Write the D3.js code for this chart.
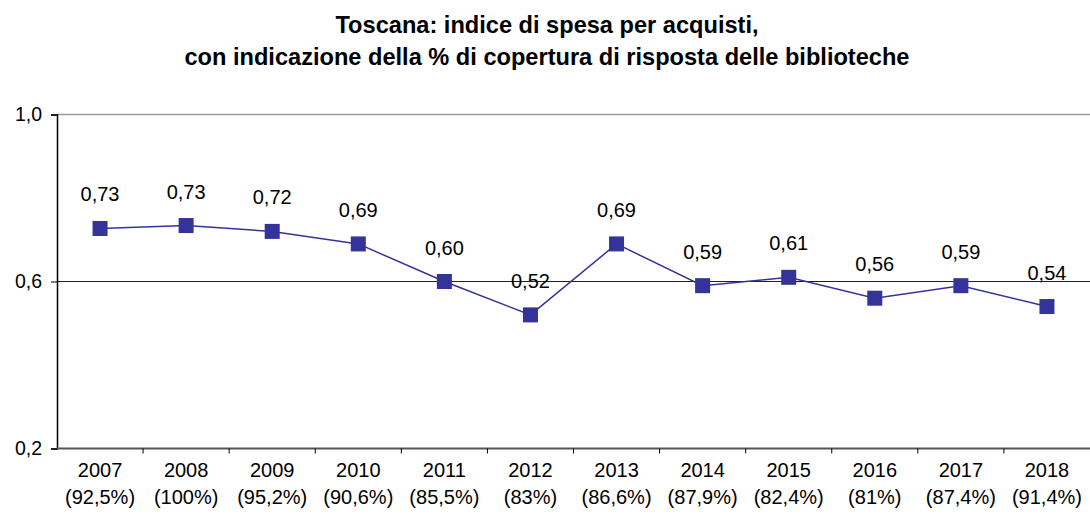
<!DOCTYPE html>
<html>
<head>
<meta charset="utf-8">
<script src="https://cdn.jsdelivr.net/npm/d3@7"></script>
<style>
    body { margin: 0; background: #fff; }
    svg text { font-family: "Liberation Sans", Arial, sans-serif; fill: #000; }
    .title { font-weight: bold; font-size: 23.6px; }
</style>
</head>
<body>
<div id="chart"></div>
<script>
// data
let years = ["2007", "2008", "2009", "2010", "2011", "2012", "2013", "2014", "2015", "2016", "2017", "2018"];
let coverage = ["92,5%", "100%", "95,2%", "90,6%", "85,5%", "83%", "86,6%", "87,9%", "82,4%", "81%", "87,4%", "91,4%"];
let spending = [0.727, 0.734, 0.72, 0.69, 0.60, 0.52, 0.69, 0.59, 0.61, 0.56, 0.59, 0.54];
let yTicks = [0.2, 0.6, 1.0];

let width = 1090, height = 515;
let margin = { top: 114.5, right: 0, bottom: 66.5, left: 57 };
let w = width - margin.left - margin.right;
let h = height - margin.top - margin.bottom;

let fmt = d => d3.format(".2f")(d).replace(".", ",");
let fmtTick = d => d3.format(".1f")(d).replace(".", ",");

let svg = d3.select("#chart").append("svg")
    .attr("width", width)
    .attr("height", height);

// title
svg.append("text").classed("title", true)
    .attr("x", 547).attr("y", 33)
    .attr("text-anchor", "middle")
    .text("Toscana: indice di spesa per acquisti,");
svg.append("text").classed("title", true)
    .attr("x", 547).attr("y", 65)
    .attr("text-anchor", "middle")
    .text("con indicazione della % di copertura di risposta delle biblioteche");

let plot = svg.append("g")
    .attr("transform", `translate(${margin.left},${margin.top})`);

let xScale = d3.scaleBand().domain(years).range([0, w]);
let yScale = d3.scaleLinear().domain([0.2, 1.0]).range([h, 0]);

// top border + gridline
plot.append("line")
    .attr("x1", 0).attr("x2", w)
    .attr("y1", yScale(1.0)).attr("y2", yScale(1.0))
    .attr("stroke", "#999").attr("stroke-width", 1.5);
plot.append("line")
    .attr("x1", 0).attr("x2", w)
    .attr("y1", yScale(0.6)).attr("y2", yScale(0.6))
    .attr("stroke", "#222").attr("stroke-width", 1);

// y axis
let yAxis = d3.axisLeft(yScale)
    .tickValues(yTicks)
    .tickSize(6)
    .tickPadding(9)
    .tickFormat(fmtTick);

let yg = plot.append("g").call(yAxis);
yg.select(".domain").attr("stroke", "#000").attr("stroke-width", 1.5);
yg.selectAll(".tick line").attr("stroke", "#000");
yg.selectAll(".tick text").attr("font-size", 19.5).attr("fill", "#000")
    .attr("font-family", "Liberation Sans, Arial, sans-serif");

// x axis: ticks at category boundaries
plot.append("line")
    .attr("x1", 0).attr("x2", w)
    .attr("y1", h).attr("y2", h)
    .attr("stroke", "#555").attr("stroke-width", 2);

plot.selectAll(".xtick")
    .data(years.slice(1))
    .enter().append("line")
    .attr("x1", d => xScale(d)).attr("x2", d => xScale(d))
    .attr("y1", h).attr("y2", h + 5)
    .attr("stroke", "#000");

let xl = plot.selectAll(".xlbl")
    .data(years)
    .enter().append("text")
    .attr("text-anchor", "middle")
    .attr("font-size", 20)
    .attr("x", d => xScale(d) + xScale.bandwidth() / 2);

xl.append("tspan")
    .attr("x", d => xScale(d) + xScale.bandwidth() / 2)
    .attr("y", h + 28)
    .text(d => d);
xl.append("tspan")
    .attr("x", d => xScale(d) + xScale.bandwidth() / 2)
    .attr("y", h + 55)
    .text((d, i) => `(${coverage[i]})`);

// line
let line = d3.line()
    .x((d, i) => xScale(years[i]) + xScale.bandwidth() / 2)
    .y(d => yScale(d));

plot.append("path")
    .datum(spending)
    .attr("fill", "none")
    .attr("stroke", "#333399")
    .attr("stroke-width", 1.5)
    .attr("d", line);

// markers
let s = 15;
plot.selectAll(".pt")
    .data(spending)
    .enter().append("rect")
    .attr("x", (d, i) => xScale(years[i]) + xScale.bandwidth() / 2 - s / 2)
    .attr("y", d => yScale(d) - s / 2)
    .attr("width", s).attr("height", s)
    .attr("fill", "#333399");

// value labels
plot.selectAll(".val")
    .data(spending)
    .enter().append("text")
    .attr("text-anchor", "middle")
    .attr("font-size", 20)
    .attr("x", (d, i) => xScale(years[i]) + xScale.bandwidth() / 2)
    .attr("y", d => yScale(d) - 27)
    .text(fmt);
</script>
</body>
</html>
